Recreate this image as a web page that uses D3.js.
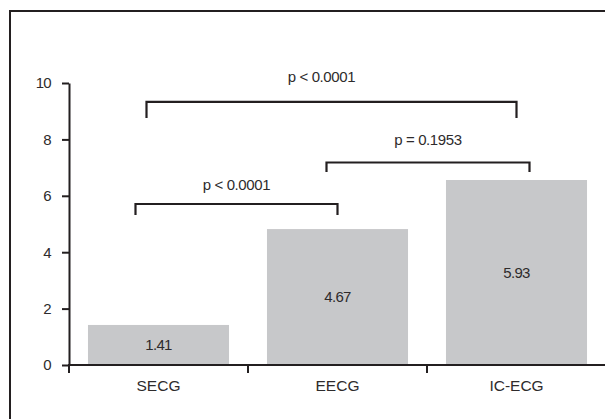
<!DOCTYPE html>
<html lang="en">
<head>
	<meta charset="UTF-8">
	<title>bar chart</title>
	<script src="https://d3js.org/d3.v7.min.js"></script>
	<style>
		body { margin: 0; background: #fff; overflow: hidden; }
		svg { display: block; }
		text { font-family: "Liberation Sans", Arial, sans-serif; fill: #2e2b2c; }
	</style>
</head>
<body>
	<script type="text/javascript">
		// data
		var categories = ["SECG", "EECG", "IC-ECG"];
		var barHeights = [1.42, 4.82, 6.56];      // drawn bar heights
		var barLabels = ["1.41", "4.67", "5.93"]; // printed inside the bars
		var yTicks = [0, 2, 4, 6, 8, 10];

		// comparisons: from, to, bracket level, leg end, label
		var bracketFrom = ["SECG", "EECG", "SECG"];
		var bracketTo = ["EECG", "IC-ECG", "IC-ECG"];
		var bracketLevel = [5.71, 7.18, 9.33];
		var bracketLegEnd = [5.32, 6.84, 8.76];
		var bracketText = ["p < 0.0001", "p = 0.1953", "p < 0.0001"];

		var w = 605;
		var h = 419;
		var ink = "#231f20";

		// layout tweaks for the brackets (pixels)
		var legShiftL = [-23, -11, -12];
		var legShiftR = [0, 13, 0];
		var textShift = [0, 0, -10];
		var textGap = [13.5, 17.5, 20];

		var xScale = d3.scaleBand().domain(categories).range([69, 606])
			.paddingInner(0.212).paddingOuter(0.106);
		var yScale = d3.scaleLinear().domain([0, 10]).range([365, 83]);

		var svg = d3.select("body").append("svg").attr("width", w).attr("height", h);

		//frame: only top and left edges fall inside the picture
		svg.append("path").attr("d", "M10," + h + "V11H" + w)
			.attr("fill", "none").attr("stroke", ink).attr("stroke-width", 2);

		//bars
		svg.selectAll("rect.bar")
			.data(barHeights)
			.enter()
			.append("rect")
			.attr("class", "bar")
			.attr("x", function(d, i) { return xScale(categories[i]); })
			.attr("y", function(d) { return yScale(d); })
			.attr("width", xScale.bandwidth())
			.attr("height", function(d) { return yScale(0) - yScale(d); })
			.attr("fill", "#c7c8ca");

		svg.selectAll("text.val")
			.data(barHeights)
			.enter()
			.append("text")
			.attr("class", "val")
			.text(function(d, i) { return barLabels[i]; })
			.attr("text-anchor", "middle")
			.attr("x", function(d, i) { return xScale(categories[i]) + xScale.bandwidth() / 2; })
			.attr("y", function(d) { return (yScale(d) + yScale(0)) / 2; })
			.attr("dy", "0.36em")
			.attr("font-size", "15px")
			.attr("letter-spacing", "-0.7px");

		//y axis
		var yAxis = svg.append("g").attr("transform", "translate(69,0)")
			.call(d3.axisLeft(yScale).tickValues(yTicks).tickSize(7).tickSizeOuter(0).tickPadding(11));
		yAxis.selectAll("path, line").attr("stroke", ink).attr("stroke-width", 2);
		yAxis.selectAll("text").attr("font-size", "15px").attr("letter-spacing", "-0.7px")
			.attr("font-family", null).attr("fill", null);

		//x axis: labels at the centres, ticks at the band edges
		var xAxis = svg.append("g").attr("transform", "translate(0," + yScale(0) + ")")
			.call(d3.axisBottom(xScale).tickSize(0).tickPadding(15));
		xAxis.select(".domain").remove();
		xAxis.selectAll("text").attr("font-size", "15.5px").attr("font-family", null).attr("fill", null);

		svg.append("line").attr("x1", 68).attr("x2", w)
			.attr("y1", yScale(0)).attr("y2", yScale(0))
			.attr("stroke", ink).attr("stroke-width", 2);

		var step = xScale.step();
		var edges = categories.map(function(c) { return xScale(c) - step * xScale.paddingInner() / 2; });
		svg.selectAll("line.edge")
			.data(edges)
			.enter()
			.append("line")
			.attr("class", "edge")
			.attr("x1", function(d) { return d; }).attr("x2", function(d) { return d; })
			.attr("y1", yScale(0)).attr("y2", yScale(0) + 8)
			.attr("stroke", ink).attr("stroke-width", 2);

		//brackets
		var mid = function(c) { return xScale(c) + xScale.bandwidth() / 2; };
		bracketText.forEach(function(t, i) {
			var x1 = mid(bracketFrom[i]) + legShiftL[i];
			var x2 = mid(bracketTo[i]) + legShiftR[i];
			var yTop = yScale(bracketLevel[i]);
			var yLeg = yScale(bracketLegEnd[i]);
			svg.append("path")
				.attr("d", "M" + x1 + "," + yLeg + "V" + yTop + "H" + x2 + "V" + yLeg)
				.attr("fill", "none").attr("stroke", ink).attr("stroke-width", 2.2);
			svg.append("text")
				.text(t)
				.attr("text-anchor", "middle")
				.attr("x", (x1 + x2) / 2 + textShift[i])
				.attr("y", yTop - textGap[i])
				.attr("font-size", "15px")
				.attr("letter-spacing", "-0.4px");
		});
	</script>
</body>
</html>
